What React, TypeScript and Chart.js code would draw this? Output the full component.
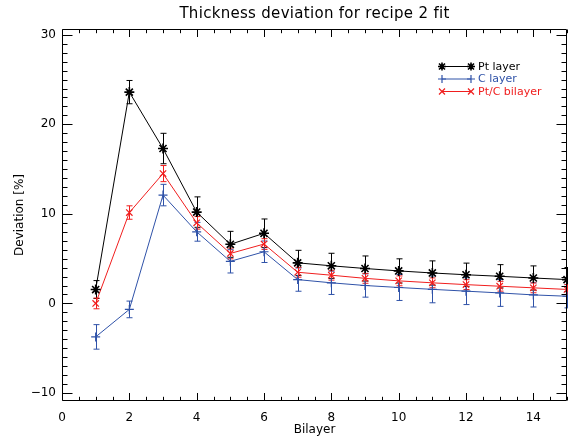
import React, { useEffect, useRef } from "react";
import { Chart, registerables } from "chart.js";

Chart.register(...registerables);

const bilayers = [1, 2, 3, 4, 5, 6, 7, 8, 9, 10, 11, 12, 13, 14, 15];
const ptLayer = [1.55, 23.6, 17.3, 10.2, 6.6, 7.83, 4.53, 4.2, 3.9, 3.63, 3.4, 3.2, 3.03, 2.84, 2.66];
const ptErr = [1.0, 1.3, 1.7, 1.7, 1.45, 1.6, 1.4, 1.4, 1.4, 1.35, 1.35, 1.3, 1.3, 1.35, 1.35];
const cLayer = [-3.74, -0.67, 12.1, 8.0, 4.7, 5.77, 2.66, 2.3, 2.0, 1.78, 1.57, 1.37, 1.17, 0.95, 0.8];
const cErr = [1.37, 0.93, 1.2, 1.05, 1.3, 1.2, 1.3, 1.3, 1.3, 1.45, 1.5, 1.5, 1.5, 1.35, 1.3];
const ptcBilayer = [0.0, 10.15, 14.5, 9.0, 5.58, 6.63, 3.48, 3.15, 2.8, 2.52, 2.3, 2.1, 1.92, 1.74, 1.56];
const ptcErr = [0.6, 0.75, 0.9, 0.7, 0.6, 0.6, 0.55, 0.55, 0.55, 0.55, 0.55, 0.55, 0.55, 0.55, 0.55];

const xTicks = [0, 2, 4, 6, 8, 10, 12, 14];
const yTicks = [-10, 0, 10, 20, 30];

const BLACK = "#000000";
const BLUE = "#2f52a8";
const RED = "#f01e1e";

const FONT = "'DejaVu Sans', sans-serif";

const series = [
  { label: "Pt layer", values: ptLayer, err: ptErr, color: BLACK, style: "star" },
  { label: "C layer", values: cLayer, err: cErr, color: BLUE, style: "cross" },
  { label: "Pt/C bilayer", values: ptcBilayer, err: ptcErr, color: RED, style: "crossRot" },
];

function marker(ctx: CanvasRenderingContext2D, style: string, x: number, y: number, r: number) {
  ctx.beginPath();
  if (style === "cross" || style === "star") {
    ctx.moveTo(x - r, y);
    ctx.lineTo(x + r, y);
    ctx.moveTo(x, y - r);
    ctx.lineTo(x, y + r);
  }
  if (style === "crossRot" || style === "star") {
    const d = r * 0.75;
    ctx.moveTo(x - d, y - d);
    ctx.lineTo(x + d, y + d);
    ctx.moveTo(x - d, y + d);
    ctx.lineTo(x + d, y - d);
  }
  ctx.stroke();
}

const errorBarPlugin = {
  id: "errorBars",
  beforeDatasetsDraw(chart: any) {
    const ctx = chart.ctx;
    const xs = chart.scales.x;
    const ys = chart.scales.y;
    ctx.save();
    ctx.lineWidth = 1;
    series.forEach((s) => {
      ctx.strokeStyle = s.color;
      bilayers.forEach((b, i) => {
        const px = Math.round(xs.getPixelForValue(b)) + 0.5;
        const top = ys.getPixelForValue(s.values[i] + s.err[i]);
        const bot = ys.getPixelForValue(s.values[i] - s.err[i]);
        ctx.beginPath();
        ctx.moveTo(px, top);
        ctx.lineTo(px, bot);
        ctx.moveTo(px - 3, top);
        ctx.lineTo(px + 3, top);
        ctx.moveTo(px - 3, bot);
        ctx.lineTo(px + 3, bot);
        ctx.stroke();
      });
    });
    ctx.restore();
  },
};

const framePlugin = {
  id: "frame",
  afterDraw(chart: any) {
    const ctx = chart.ctx;
    const xs = chart.scales.x;
    const ys = chart.scales.y;
    const { left, right, top, bottom } = chart.chartArea;
    ctx.save();
    ctx.strokeStyle = "#000";
    ctx.lineWidth = 1;
    const L = Math.round(left) + 0.5;
    const R = Math.round(right) - 0.5;
    const T = Math.round(top) + 0.5;
    const B = Math.round(bottom) - 0.5;
    ctx.beginPath();
    ctx.rect(L, T, R - L, B - T);
    ctx.stroke();

    ctx.beginPath();
    for (let v = 0; v <= 15.001; v += 0.5) {
      const px = Math.round(xs.getPixelForValue(v)) + 0.5;
      const major = Math.abs(v % 2) < 1e-6;
      const len = major ? 7.5 : 3.7;
      ctx.moveTo(px, B);
      ctx.lineTo(px, B - len);
      ctx.moveTo(px, T);
      ctx.lineTo(px, T + len);
    }
    for (let v = -10; v <= 30; v += 1) {
      const py = Math.round(ys.getPixelForValue(v)) + 0.5;
      const major = v % 10 === 0;
      const len = major ? 10 : 5;
      ctx.moveTo(L, py);
      ctx.lineTo(L + len, py);
      ctx.moveTo(R, py);
      ctx.lineTo(R - len, py);
    }
    ctx.stroke();

    ctx.fillStyle = "#000";
    ctx.font = `12px ${FONT}`;
    ctx.textAlign = "center";
    ctx.textBaseline = "middle";
    xTicks.forEach((v) => {
      ctx.fillText(String(v), xs.getPixelForValue(v), 418);
    });
    ctx.textAlign = "right";
    yTicks.forEach((v) => {
      const label = v < 0 ? "\u2212" + Math.abs(v) : String(v);
      ctx.fillText(label, left - 6, ys.getPixelForValue(v));
    });

    ctx.textAlign = "center";
    ctx.font = `12px ${FONT}`;
    ctx.fillText("Bilayer", (left + right) / 2, 430);
    ctx.save();
    ctx.translate(20, (top + bottom) / 2);
    ctx.rotate(-Math.PI / 2);
    ctx.fillText("Deviation [%]", 0, 0);
    ctx.restore();

    ctx.font = `15px ${FONT}`;
    (ctx as any).letterSpacing = "0.3px";
    ctx.fillText("Thickness deviation for recipe 2 fit", (left + right) / 2, 14);
    (ctx as any).letterSpacing = "0px";

    const lx0 = 442;
    const lx1 = 471;
    const ly = [66, 78.5, 91];
    ctx.font = `11px ${FONT}`;
    ctx.textAlign = "left";
    series.forEach((s, i) => {
      ctx.strokeStyle = s.color;
      ctx.lineWidth = 1;
      ctx.beginPath();
      ctx.moveTo(lx0, ly[i] + 0.5);
      ctx.lineTo(lx1, ly[i] + 0.5);
      ctx.stroke();
      ctx.lineWidth = s.style === "star" ? 1.6 : 1.2;
      marker(ctx, s.style, lx0, ly[i] + 0.5, 4);
      marker(ctx, s.style, lx1, ly[i] + 0.5, 4);
      ctx.fillStyle = s.color;
      ctx.fillText(s.label, 478, ly[i] + 1);
    });
    ctx.restore();
  },
};

export default function App() {
  const ref = useRef<HTMLCanvasElement | null>(null);
  useEffect(() => {
    document.body.style.margin = "0";
    if (!ref.current) return;
    const chart = new Chart(ref.current, {
      type: "line",
      data: {
        datasets: series.map((s, i) => ({
          label: s.label,
          data: bilayers.map((b, j) => ({ x: b, y: s.values[j] })),
          borderColor: s.color,
          backgroundColor: s.color,
          borderWidth: 1,
          pointStyle: s.style as any,
          pointRadius: s.style === "star" ? 5 : 4.5,
          pointBorderWidth: s.style === "star" ? 1.6 : 1.2,
          pointBorderColor: s.color,
          showLine: true,
          tension: 0,
          order: i,
          clip: 6,
        })),
      },
      options: {
        responsive: false,
        animation: false,
        layout: { autoPadding: false, padding: { left: 62, right: 1, top: 29, bottom: 38 } },
        scales: {
          x: { type: "linear", min: 0, max: 15, display: false },
          y: { type: "linear", min: -10.9, max: 30.65, display: false },
        },
        plugins: {
          legend: { display: false },
          title: { display: false },
          tooltip: { enabled: false },
        },
      },
      plugins: [errorBarPlugin, framePlugin],
    });
    return () => chart.destroy();
  }, []);
  return (
    <div style={{ width: 568, height: 439, background: "#fff" }}>
      <canvas ref={ref} width={568} height={439} />
    </div>
  );
}
